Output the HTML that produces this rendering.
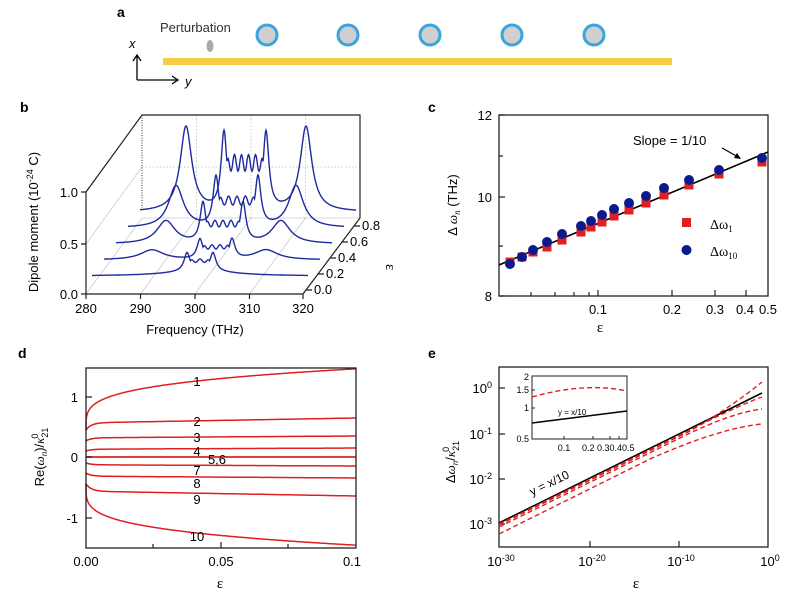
<!DOCTYPE html>
<html><head><meta charset="utf-8"><style>
html,body{margin:0;padding:0;background:#fff;}
svg{display:block;font-family:"Liberation Sans",sans-serif;}
</style></head><body>
<svg id="s" width="800" height="599" viewBox="0 0 800 599" xmlns="http://www.w3.org/2000/svg">
<!-- panel a -->
<text x="117" y="17" font-size="14" font-weight="bold">a</text>
<rect x="163" y="58" width="509" height="7" fill="#f6cd45"/>
<text x="160" y="32" font-size="13" fill="#333">Perturbation</text>
<ellipse cx="210" cy="46" rx="3.5" ry="6" fill="#aaa"/>
<g fill="#cfcfcf" stroke="#37a6dd" stroke-width="3">
<circle cx="267" cy="35" r="10"/><circle cx="348" cy="35" r="10"/><circle cx="430" cy="35" r="10"/><circle cx="512" cy="35" r="10"/><circle cx="594" cy="35" r="10"/>
</g>
<g stroke="#000" stroke-width="1.3" fill="none"><path d="M137 80 V56 M133 61 L137 55 L141 61"/><path d="M137 80 H177 M172 76 L178 80 L172 84"/></g>
<text x="129" y="48" font-size="13" font-style="italic">x</text>
<text x="185" y="86" font-size="13" font-style="italic">y</text>

<!-- panel b -->
<text x="20" y="112" font-size="14" font-weight="bold">b</text>
<g stroke="#ccc" stroke-width="0.8" fill="none">
<line x1="86" y1="244" x2="142" y2="167"/><line x1="86" y1="294" x2="142" y2="218"/>
<line x1="142" y1="218" x2="360" y2="218"/>
<line x1="140.5" y1="294" x2="196.5" y2="218"/><line x1="195" y1="294" x2="251" y2="218"/><line x1="249.5" y1="294" x2="305.5" y2="218"/>
</g>
<g stroke="#bbb" stroke-width="0.8" stroke-dasharray="1.5,2" fill="none">
<line x1="196.5" y1="115" x2="196.5" y2="218"/><line x1="251" y1="115" x2="251" y2="218"/><line x1="305.5" y1="115" x2="305.5" y2="218"/>
<line x1="142" y1="167" x2="360" y2="167"/>
</g>
<line x1="142" y1="115" x2="142" y2="208" stroke="#333" stroke-width="1" stroke-dasharray="1,1.5"/>
<g stroke="#222" stroke-width="1.2" fill="none">
<path d="M86 294 V192 L142 115 H360 V218"/>
<path d="M86 294 H303 L360 218"/>
<path d="M86 192 h-5 M86 244 h-5 M86 294 h-5"/>
<path d="M86 294 v5 M140.5 294 v5 M195 294 v5 M249.5 294 v5 M303 294 v5"/>
<path d="M306 290 h6 M318 274 h6 M330 258 h6 M342 242 h6 M354 226 h6"/>
</g>
<g id="bcurves" stroke="#1f2a9e" stroke-width="1.4" fill="none"></g>
<g font-size="13" text-anchor="end"><text x="78" y="197">1.0</text><text x="78" y="249">0.5</text><text x="78" y="299">0.0</text></g>
<g font-size="13" text-anchor="middle"><text x="86" y="313">280</text><text x="140.5" y="313">290</text><text x="195" y="313">300</text><text x="249.5" y="313">310</text><text x="303" y="313">320</text></g>
<text x="195" y="334" font-size="13" text-anchor="middle">Frequency (THz)</text>
<g font-size="13"><text x="314" y="294">0.0</text><text x="326" y="278">0.2</text><text x="338" y="262">0.4</text><text x="350" y="246">0.6</text><text x="362" y="230">0.8</text></g>
<text x="386" y="264" font-size="15" font-family="Liberation Serif,serif" transform="rotate(90 386 264)">ε</text>
<text transform="translate(38 222) rotate(-90)" font-size="13" text-anchor="middle">Dipole moment (10<tspan font-size="9" dy="-5">-24</tspan><tspan dy="5"> C)</tspan></text>

<!-- panel c -->
<text x="428" y="112" font-size="14" font-weight="bold">c</text>
<rect x="499" y="115" width="269" height="181" fill="none" stroke="#222" stroke-width="1.3"/>
<g stroke="#222" stroke-width="1.2"><path d="M499 115 h6 M499 156 h4 M499 197 h6 M499 246 h4 M499 296 h6"/>
<path d="M598 296 v-6 M672 296 v-6 M715 296 v-6 M746 296 v-6 M531 296 v-4 M555 296 v-4 M574 296 v-4 M589 296 v-4"/></g>
<g font-size="13" text-anchor="end"><text x="492" y="120">12</text><text x="492" y="202">10</text><text x="492" y="301">8</text></g>
<g font-size="13" text-anchor="middle"><text x="598" y="314">0.1</text><text x="672" y="314">0.2</text><text x="715" y="314">0.3</text><text x="745" y="314">0.4</text><text x="768" y="314">0.5</text></g>
<text x="600" y="332" font-size="15" font-family="Liberation Serif,serif" text-anchor="middle">ε</text>
<text transform="translate(457 205) rotate(-90)" font-size="13" text-anchor="middle">Δ <tspan font-family="Liberation Serif,serif" font-style="italic">ω<tspan font-size="9" dy="3">n</tspan></tspan><tspan dy="-3"> (THz)</tspan></text>
<line x1="499" y1="265" x2="768" y2="152" stroke="#000" stroke-width="1.6"/>
<g id="cpts"></g>
<text x="633" y="145" font-size="13">Slope = 1/10</text>
<path d="M722 148 L740 158" stroke="#000" stroke-width="1.2"/><path d="M741 159 l-7 -1 l3 -5z" fill="#000"/>
<rect x="682" y="218" width="9" height="9" fill="#e02020"/><circle cx="686.5" cy="250" r="5" fill="#0b1a8c"/>
<text x="710" y="229" font-size="14" font-family="Liberation Serif,serif">Δω<tspan font-size="9" dy="3">1</tspan></text>
<text x="710" y="256" font-size="14" font-family="Liberation Serif,serif">Δω<tspan font-size="9" dy="3">10</tspan></text>

<!-- panel d -->
<text x="18" y="358" font-size="14" font-weight="bold">d</text>
<g id="dcurves" stroke="#e02020" stroke-width="1.5" fill="none"></g>
<rect x="86" y="368" width="270" height="180" fill="none" stroke="#222" stroke-width="1.3"/>
<g stroke="#222" stroke-width="1.2"><path d="M86 397 h6 M86 457 h6 M86 518 h6 M153 548 v-4 M221 548 v-6 M288 548 v-4"/></g>
<g font-size="13" text-anchor="end"><text x="78" y="402">1</text><text x="78" y="462">0</text><text x="78" y="523">-1</text></g>
<g font-size="13" text-anchor="middle"><text x="86" y="566">0.00</text><text x="221" y="566">0.05</text><text x="352" y="566">0.1</text></g>
<text x="220" y="588" font-size="15" font-family="Liberation Serif,serif" text-anchor="middle">ε</text>
<text transform="translate(44 457) rotate(-90)" font-size="13" text-anchor="middle">Re(<tspan font-family="Liberation Serif,serif" font-style="italic">ω<tspan font-size="9" dy="3">n</tspan></tspan><tspan dy="-3">)/</tspan><tspan font-family="Liberation Serif,serif" font-style="italic">κ</tspan><tspan font-size="9" dy="4">21</tspan><tspan font-size="9" dx="-11" dy="-10">0</tspan></text>
<g font-size="13" text-anchor="middle"><text x="197" y="386">1</text><text x="197" y="426">2</text><text x="197" y="442">3</text><text x="197" y="456">4</text><text x="217" y="464">5,6</text><text x="197" y="475">7</text><text x="197" y="488">8</text><text x="197" y="504">9</text><text x="197" y="541">10</text></g>

<!-- panel e -->
<text x="428" y="358" font-size="14" font-weight="bold">e</text>
<rect x="499" y="367" width="269" height="180" fill="none" stroke="#222" stroke-width="1.3"/>
<g stroke="#222" stroke-width="1.2"><path d="M499 388 h6 M499 434 h6 M499 479 h6 M499 524 h6 M590 547 v-6 M679 547 v-6"/></g>
<g font-size="13" text-anchor="end"><text x="492" y="393">10<tspan font-size="9" dy="-5">0</tspan></text><text x="492" y="439">10<tspan font-size="9" dy="-5">-1</tspan></text><text x="492" y="484">10<tspan font-size="9" dy="-5">-2</tspan></text><text x="492" y="529">10<tspan font-size="9" dy="-5">-3</tspan></text></g>
<g font-size="13" text-anchor="middle"><text x="501" y="566">10<tspan font-size="9" dy="-5">-30</tspan></text><text x="592" y="566">10<tspan font-size="9" dy="-5">-20</tspan></text><text x="681" y="566">10<tspan font-size="9" dy="-5">-10</tspan></text><text x="770" y="566">10<tspan font-size="9" dy="-5">0</tspan></text></g>
<text x="636" y="588" font-size="15" font-family="Liberation Serif,serif" text-anchor="middle">ε</text>
<text transform="translate(455 462) rotate(-90)" font-size="13" text-anchor="middle">Δ<tspan font-family="Liberation Serif,serif" font-style="italic">ω<tspan font-size="9" dy="3">n</tspan></tspan><tspan dy="-3">/</tspan><tspan font-family="Liberation Serif,serif" font-style="italic">κ</tspan><tspan font-size="9" dy="4">21</tspan><tspan font-size="9" dx="-11" dy="-10">0</tspan></text>
<line x1="499" y1="523" x2="762" y2="393" stroke="#000" stroke-width="1.6"/>
<g stroke="#e02020" stroke-width="1.4" fill="none" stroke-dasharray="5,3">
<path d="M499 525 L690 431 Q730 408 762 382"/>
<path d="M499 524 L700 425 Q740 405 762 397"/>
<path d="M499 527 L680 438 Q730 413 762 409"/>
<path d="M499 534 L650 459 Q720 428 762 424"/>
</g>
<text transform="translate(532 496) rotate(-26)" font-size="12">y = x/10</text>
<rect x="532" y="376" width="95" height="63" fill="#fff" stroke="#222" stroke-width="1"/>
<g stroke="#222" stroke-width="1"><path d="M532 390 h3 M532 408 h3 M564 439 v-3 M593 439 v-3 M610 439 v-3 M619 439 v-3"/></g>
<g font-size="9" text-anchor="end"><text x="529" y="380">2</text><text x="529" y="393">1.5</text><text x="529" y="411">1</text><text x="529" y="442">0.5</text></g>
<text x="564" y="451" font-size="9" text-anchor="middle">0.1</text>
<text x="582" y="451" font-size="9">0.2 0.30.40.5</text>
<line x1="532" y1="423" x2="627" y2="411" stroke="#000" stroke-width="1.4"/>
<path d="M532 397 Q585 382 627 391" stroke="#e02020" stroke-width="1.4" fill="none" stroke-dasharray="5,3"/>
<text x="558" y="415" font-size="8">y = x/10</text>
</svg>
<script>
var NS="http://www.w3.org/2000/svg";
function mk(p,d){var e=document.createElementNS(NS,"path");e.setAttribute("d",d);document.getElementById(p).appendChild(e);}
function L(r,c,g,a){return a*g*g/((r-c)*(r-c)+g*g);}
function sig(t){return 1/(1+Math.exp(-t));}
// panel b
var specs=[
 {o:[[108,35,6]],e:[95,121,18],w:11,n:3},
 {o:[[48,14,10],[162,14,10]],e:[96,128,20],w:14,n:4},
 {o:[[50,11,23],[165,11,23]],e:[87,127,40],w:22,n:5},
 {o:[[48,9,42],[168,9,42]],e:[88,130,50],w:30,n:5},
 {o:[[46,7,85],[166,7,85]],e:[84,126,78],w:55,n:6}];
for(var k=4;k>=0;k--){
 var s=specs[k],x0=92+12*k,y0=276-16*k;
 var d="";
 for(var r=0;r<=216;r+=0.5){
  var v=0;
  s.o.forEach(function(p){v+=L(r,p[0],p[1],p[2]);});
  var a=s.e[0],b=s.e[1];
  var box=sig((r-a)/1.5)*sig((b-r)/1.5);
  var ph=(r-a)/(b-a)*s.n*2*Math.PI;
  var plateau=s.w*(0.85-0.15*Math.cos(ph))*box;
  var edges=L(r,a,3.5,s.e[2])+L(r,b,3.5,s.e[2]);
  v+=Math.max(plateau,edges);
  d+=(r==0?"M":"L")+(x0+r).toFixed(1)+" "+(y0-v).toFixed(1);
 }
 mk("bcurves",d);
}
// panel c
var xs=[510,522,533,547,562,581,591,602,614,629,646,664,689,719,762];
var by=[264,257,250,242,234,226,221,215,209,203,196,188,180,170,158];
var ry=[262,257,252,247,240,232,227,222,216,210,203,195,185,174,162];
var g=document.getElementById("cpts");
xs.forEach(function(x,i){
 var r=document.createElementNS(NS,"rect");r.setAttribute("x",x-4.5);r.setAttribute("y",ry[i]-4.5);r.setAttribute("width",9);r.setAttribute("height",9);r.setAttribute("fill","#e02020");g.appendChild(r);
});
xs.forEach(function(x,i){
 var c=document.createElementNS(NS,"circle");c.setAttribute("cx",x);c.setAttribute("cy",by[i]);c.setAttribute("r",5);c.setAttribute("fill","#0b1a8c");g.appendChild(c);
});
// panel d
var fs=[
 function(e){return 0.45+1.02*Math.pow(e/0.1,0.25);},
 function(e){return 0.45+0.12*(1-Math.exp(-e/0.002))+0.08*e/0.1;},
 function(e){return 0.27+0.05*(1-Math.exp(-e/0.002))+0.03*e/0.1;},
 function(e){return 0.1+0.03*(1-Math.exp(-e/0.002))+0.02*e/0.1;},
 function(e){return 0;}];
fs.forEach(function(f){
 [1,-1].forEach(function(sg){
  var d="";
  for(var i=0;i<=400;i++){var e=0.1*Math.pow(i/400,2);var x=86+e/0.1*270;var y=457-sg*f(e)*60;d+=(i==0?"M":"L")+x.toFixed(1)+" "+y.toFixed(1);}
  mk("dcurves",d);
 });
});
</script>
</body></html>
